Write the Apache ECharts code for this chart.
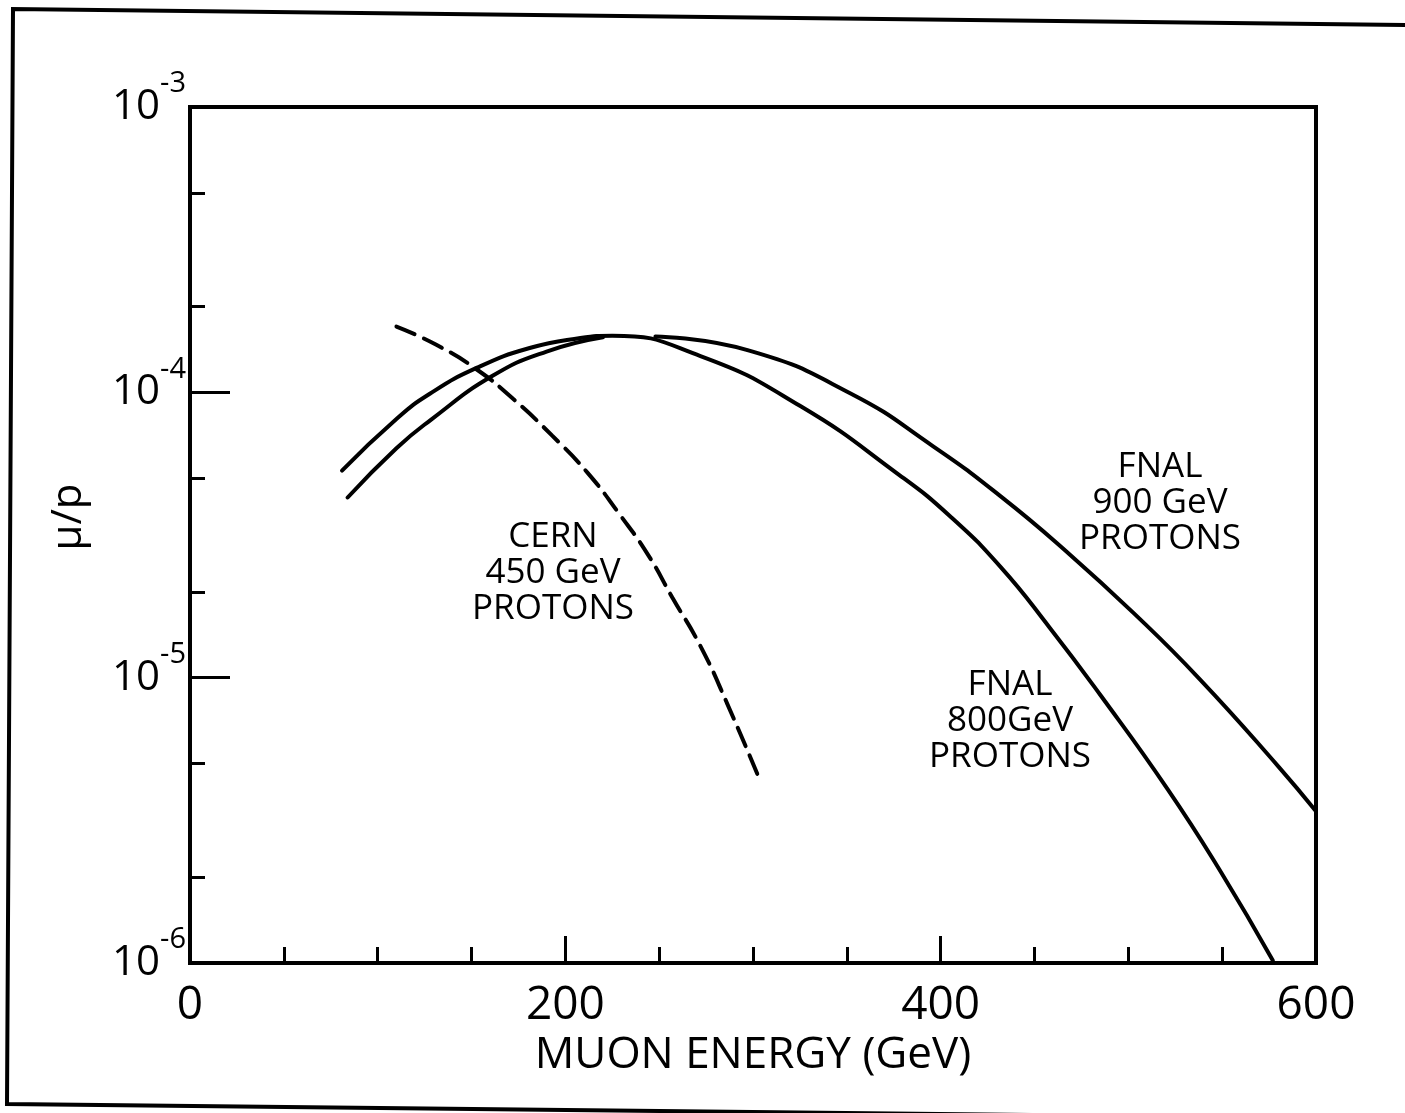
<!DOCTYPE html>
<html>
<head>
<meta charset="utf-8">
<title>Muon yield per proton</title>
<script src="https://cdn.jsdelivr.net/npm/echarts@6/dist/echarts.min.js"></script>
<style>
  html, body { margin: 0; padding: 0; background: #fff; }
  #chart { width: 1405px; height: 1113px; }
</style>
</head>
<body>
<div id="chart"></div>
<script>
    // muon energy (GeV) and mu/p
    const cernEnergy = [110, 131, 153, 172, 193, 212, 229, 244, 257, 272, 286, 304];
    const cernMuP = [1.70e-4, 1.47e-4, 1.20e-4, 9.51e-5, 7.05e-5, 5.21e-5, 3.73e-5, 2.70e-5, 1.91e-5, 1.29e-5, 8.18e-6, 4.32e-6];

    const fnal800Energy = [81, 110, 128, 153, 181, 208, 225, 272, 325, 378, 405, 432, 458, 485, 521, 549, 577];
    const fnal800MuP = [5.32e-5, 8.07e-5, 9.91e-5, 1.22e-4, 1.43e-4, 1.55e-4, 1.58e-4, 1.34e-4, 8.97e-5, 5.13e-5, 3.68e-5, 2.44e-5, 1.50e-5, 8.71e-6, 4.06e-6, 2.10e-6, 1.02e-6];

    // null = the small break in the drawn line just right of the peak
    const fnal900Energy = [84, 110, 128, 161, 190, 220, 234, 248, 298, 352, 396, 432, 467, 503, 538, 580, 600];
    const fnal900MuP = [4.28e-5, 6.37e-5, 7.98e-5, 1.14e-4, 1.39e-4, 1.56e-4, null, 1.57e-4, 1.40e-4, 9.91e-5, 6.47e-5, 4.32e-5, 2.77e-5, 1.68e-5, 9.89e-6, 4.88e-6, 3.40e-6];

    const xTicks = [0, 200, 400, 600];
    const yDecades = [1e-6, 1e-5, 1e-4, 1e-3];
    const yMinorTicks = [2e-6, 5e-6, 2e-5, 5e-5, 2e-4, 5e-4];

    const FONT = '"Open Sans", "DejaVu Sans", sans-serif';
    const INK = '#000';

    const toPairs = (xs, ys) => xs.map((x, i) => [x, ys[i]]);

    const lineSeries = (name, data, dashed) => ({
        type: 'line',
        name: name,
        data: data,
        xAxisIndex: 0,
        yAxisIndex: 0,
        smooth: 0.5,
        showSymbol: false,
        symbol: 'none',
        connectNulls: false,
        lineStyle: {
            color: INK,
            width: 4,
            type: dashed ? [20, 10] : 'solid',
            cap: 'round'
        }
    });

    // text blocks written on the plot, centred at the given pixel spot
    const note = (text, x, y) => ({
        type: 'text',
        x: x,
        y: y,
        silent: true,
        style: {
            text: text,
            fontFamily: FONT,
            fontSize: 35,
            lineHeight: 36,
            fill: INK,
            align: 'center',
            verticalAlign: 'middle'
        }
    });

    const chart = echarts.init(document.getElementById('chart'), null, { renderer: 'canvas' });

    const option = {
        backgroundColor: '#fff',
        animation: false,
        grid: {
            left: 190,
            right: 89,
            top: 107,
            bottom: 150,
            show: true,
            borderColor: INK,
            borderWidth: 4,
            backgroundColor: 'transparent'
        },
        xAxis: [{
            type: 'value',
            min: 0,
            max: 600,
            interval: 200,
            name: 'MUON ENERGY (GeV)',
            nameLocation: 'middle',
            nameGap: 66,
            nameTextStyle: { fontFamily: FONT, fontSize: 44, color: INK },
            axisLine: { show: true, lineStyle: { color: INK, width: 4 } },
            axisTick: { show: true, inside: true, length: 27, lineStyle: { color: INK, width: 3 } },
            minorTick: { show: true, splitNumber: 4, length: 16, lineStyle: { color: INK, width: 3 } },
            axisLabel: {
                customValues: xTicks,
                margin: 20,
                fontFamily: FONT,
                fontSize: 46,
                color: INK
            },
            splitLine: { show: false }
        }],
        yAxis: [{
            type: 'log',
            logBase: 10,
            min: 1e-6,
            max: 1e-3,
            name: 'μ/p',
            nameLocation: 'middle',
            nameGap: 100,
            nameRotate: 90,
            nameTextStyle: { fontFamily: FONT, fontSize: 42, color: INK, padding: [0, 0, 0, 36] },
            axisLine: { show: true, lineStyle: { color: INK, width: 4 } },
            axisTick: { show: true, inside: true, length: 40, customValues: yDecades, lineStyle: { color: INK, width: 3 } },
            axisLabel: {
                customValues: yDecades,
                margin: 4,
                formatter: (v) => '{b|10}{s|' + Math.round(Math.log10(v)) + '}',
                rich: {
                    b: { fontFamily: FONT, fontSize: 42, color: INK, verticalAlign: 'middle' },
                    s: { fontFamily: FONT, fontSize: 29, color: INK, verticalAlign: 'middle', padding: [0, 0, 46, 0] }
                }
            },
            splitLine: { show: false }
        }, {
            // only the short ticks at 2 and 5 of every decade
            type: 'log',
            logBase: 10,
            min: 1e-6,
            max: 1e-3,
            position: 'left',
            offset: 0,
            axisLine: { show: false },
            axisTick: { show: true, inside: true, length: 15, customValues: yMinorTicks, lineStyle: { color: INK, width: 3 } },
            axisLabel: { show: false },
            splitLine: { show: false }
        }],
        graphic: [
            {
                type: 'polyline',
                silent: true,
                shape: { points: [[1405, 25], [13, 9], [7, 1104], [1405, 1119]] },
                style: { stroke: INK, lineWidth: 4, fill: null }
            },
            note('CERN\n450 GeV\nPROTONS', 553, 573),
            note('FNAL\n900 GeV\nPROTONS', 1160, 503),
            note('FNAL\n800GeV\nPROTONS', 1010, 721)
        ],
        series: [
            lineSeries('CERN 450 GeV protons', toPairs(cernEnergy, cernMuP), true),
            lineSeries('FNAL 800 GeV protons', toPairs(fnal800Energy, fnal800MuP), false),
            lineSeries('FNAL 900 GeV protons', toPairs(fnal900Energy, fnal900MuP), false)
        ]
    };

    chart.setOption(option);
</script>
</body>
</html>
